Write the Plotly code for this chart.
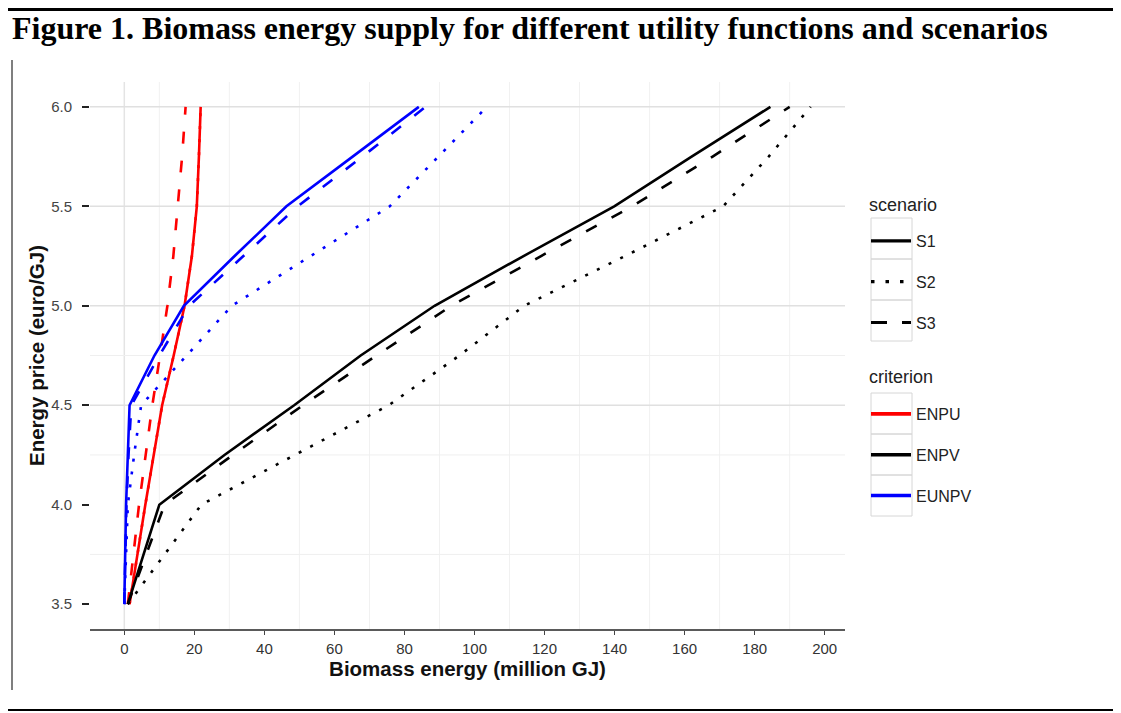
import plotly.graph_objects as go

# ---------------- data ----------------
price = [3.5, 3.75, 4.0, 4.25, 4.5, 4.75, 5.0, 5.25, 5.5, 5.75, 6.0]

enpu_s1 = [1.5, 3.7, 6.0, 8.4, 10.8, 14.1, 17.2, 19.3, 20.7, 21.3, 21.8]
enpu_s2 = [1.5, 3.7, 6.0, 8.4, 10.8, 14.1, 17.2, 19.3, 20.7, 21.3, 21.8]
enpu_s3 = [1.0, 2.6, 4.2, 6.1, 8.0, 10.2, 12.3, 14.0, 15.3, 16.5, 17.5]

enpv_s1 = [1.0, 5.5, 10.0, 28.6, 48.5, 67.5, 88.6, 114.0, 139.9, 162.0, 184.5]
enpv_s2 = [1.0, 11.5, 22.0, 48.7, 75.5, 95.7, 114.2, 143.0, 171.0, 184.0, 196.0]
enpv_s3 = [1.0, 6.3, 11.5, 31.0, 51.0, 72.0, 93.4, 119.0, 145.0, 168.0, 190.0]

eunpv_s1 = [0.0, 0.2, 0.5, 1.0, 1.5, 8.6, 17.0, 31.5, 46.3, 65.2, 84.1]
eunpv_s2 = [0.0, 0.4, 1.0, 2.8, 4.8, 17.8, 30.7, 53.2, 75.8, 89.7, 103.5]
eunpv_s3 = [0.0, 0.3, 0.6, 1.2, 2.0, 10.0, 18.5, 34.0, 49.5, 68.0, 86.0]

criteria = ["ENPU", "ENPV", "EUNPV"]
scenarios = ["S1", "S2", "S3"]
series = {
    ("ENPU", "S1"): enpu_s1, ("ENPU", "S2"): enpu_s2, ("ENPU", "S3"): enpu_s3,
    ("ENPV", "S1"): enpv_s1, ("ENPV", "S2"): enpv_s2, ("ENPV", "S3"): enpv_s3,
    ("EUNPV", "S1"): eunpv_s1, ("EUNPV", "S2"): eunpv_s2, ("EUNPV", "S3"): eunpv_s3,
}

x_ticks = list(range(0, 201, 20))
y_ticks = [3.5, 4.0, 4.5, 5.0, 5.5, 6.0]

# ---------------- styles ----------------
colors = {"ENPU": "#ff0000", "ENPV": "#000000", "EUNPV": "#0000ff"}
dashes = {"S1": "solid", "S2": "3px,10px", "S3": "12px,17px"}
FONT = "Liberation Sans, Arial, sans-serif"

# the page places the figure 8px in from the window's top-left corner
OFF = 8
W, H = 1121 - OFF, 713 - OFF
L, R, T, B = 90 - OFF, 845 - OFF, 82 - OFF, 629 - OFF  # panel box in figure pixels


def px_x(px):
    """window pixel -> paper x"""
    return (px - OFF - L) / (R - L)


def px_y(py):
    """window pixel -> paper y"""
    return (B - (py - OFF)) / (B - T)


fig = go.Figure()

for c in criteria:
    for s in scenarios:
        fig.add_trace(go.Scatter(
            x=series[(c, s)], y=price, mode="lines", name=f"{c} {s}",
            line=dict(color=colors[c], width=2.6, dash=dashes[s]),
            showlegend=False, hoverinfo="x+y+name",
        ))

# legend entries: scenario
leg_dash = {"S1": "solid", "S2": "3.5px,11px", "S3": "16px,15px"}
for s in scenarios:
    fig.add_trace(go.Scatter(
        x=[None], y=[None], mode="lines", name=s, legend="legend",
        legendgroup="s" + s,
        line=dict(color="#000000", width=3.2, dash=leg_dash[s]),
    ))
# legend entries: criterion
for c in criteria:
    fig.add_trace(go.Scatter(
        x=[None], y=[None], mode="lines", name=c, legend="legend2",
        legendgroup="c" + c,
        line=dict(color=colors[c], width=3.6),
    ))

shapes = []
# grid lines (as seen in the reference)
for xv in range(10, 200, 20):
    shapes.append(dict(type="line", xref="x", yref="paper", x0=xv, x1=xv, y0=0, y1=1,
                       line=dict(color="#f1f1f1", width=1), layer="below"))
shapes.append(dict(type="line", xref="x", yref="paper", x0=0, x1=0, y0=0, y1=1,
                   line=dict(color="#e4e4e4", width=1.5), layer="below"))
for yv in [4.5, 5.0, 5.5, 6.0]:
    shapes.append(dict(type="line", xref="paper", yref="y", x0=0, x1=1, y0=yv, y1=yv,
                       line=dict(color="#e0e0e0", width=1.5), layer="below"))
for yv in [3.75, 4.25, 4.75]:
    shapes.append(dict(type="line", xref="paper", yref="y", x0=0, x1=1, y0=yv, y1=yv,
                       line=dict(color="#efefef", width=1), layer="below"))

# page frame lines
shapes.append(dict(type="line", xref="paper", yref="paper", x0=px_x(OFF), x1=px_x(1121),
                   y0=px_y(9.6), y1=px_y(9.6), line=dict(color="#000", width=3)))
shapes.append(dict(type="line", xref="paper", yref="paper", x0=px_x(OFF), x1=px_x(1121),
                   y0=px_y(710), y1=px_y(710), line=dict(color="#000", width=2)))
shapes.append(dict(type="line", xref="paper", yref="paper", x0=px_x(12), x1=px_x(12),
                   y0=px_y(60), y1=px_y(690), line=dict(color="#555", width=1.5)))

# legend key boxes
KEY_TOPS = [218, 259, 300, 393, 434, 475]
for top in KEY_TOPS:
    shapes.append(dict(type="rect", xref="paper", yref="paper",
                       x0=px_x(871), x1=px_x(912), y0=px_y(top), y1=px_y(top + 41),
                       line=dict(color="#d6d6d6", width=1), layer="below"))

# legend titles
annotations = [
    dict(text="scenario", xref="paper", yref="paper", x=px_x(867), y=px_y(205),
         xanchor="left", yanchor="middle", showarrow=False,
         font=dict(size=18, color="#222")),
    dict(text="criterion", xref="paper", yref="paper", x=px_x(867), y=px_y(377),
         xanchor="left", yanchor="middle", showarrow=False,
         font=dict(size=18, color="#222")),
]

fig.update_layout(
    width=W, height=H,
    margin=dict(l=L, r=W - R, t=T, b=H - B, pad=0),
    paper_bgcolor="white", plot_bgcolor="white",
    font=dict(family=FONT, color="#222"),
    title=dict(
        text="<b>Figure 1. Biomass energy supply for different utility functions and scenarios</b>",
        x=(12 - OFF) / W, xanchor="left", xref="container",
        y=1 - (28 - OFF) / H, yanchor="middle", yref="container",
        font=dict(family="Liberation Serif, Times New Roman, serif", size=32, color="#000"),
    ),
    xaxis=dict(
        range=[-9.8, 205.8], tickmode="array", tickvals=x_ticks,
        showgrid=False, zeroline=False,
        showline=True, linecolor="#5a5a5a", linewidth=2,
        ticks="outside", ticklen=4, tickcolor="#444", tickwidth=1,
        tickfont=dict(size=15, color="#333"), ticklabelstandoff=1,
        title=dict(text="<b>Biomass energy (million GJ)</b>", standoff=4,
                   font=dict(size=20.5, color="#111")),
        automargin=False,
    ),
    yaxis=dict(
        range=[3.375, 6.125], tickmode="array", tickvals=y_ticks,
        tickformat=".1f",
        showgrid=False, zeroline=False, showline=False,
        ticks="outside", ticklen=7, tickcolor="#222", tickwidth=2,
        tickfont=dict(size=15, color="#444"), ticklabelstandoff=7,
        title=dict(text="<b>Energy price (euro/GJ)</b>", standoff=0,
                   font=dict(size=20.5, color="#111")),
        automargin=False,
    ),
    legend=dict(
        x=px_x(866), xanchor="left", y=px_y(224), yanchor="top",
        font=dict(size=16, color="#222"), bgcolor="rgba(0,0,0,0)",
        itemwidth=40, tracegroupgap=17, traceorder="grouped",
    ),
    legend2=dict(
        x=px_x(866), xanchor="left", y=px_y(397), yanchor="top",
        font=dict(size=16, color="#222"), bgcolor="rgba(0,0,0,0)",
        itemwidth=40, tracegroupgap=17, traceorder="grouped",
    ),
    shapes=shapes,
    annotations=annotations,
    showlegend=True,
)

fig.write_html("out.html")
